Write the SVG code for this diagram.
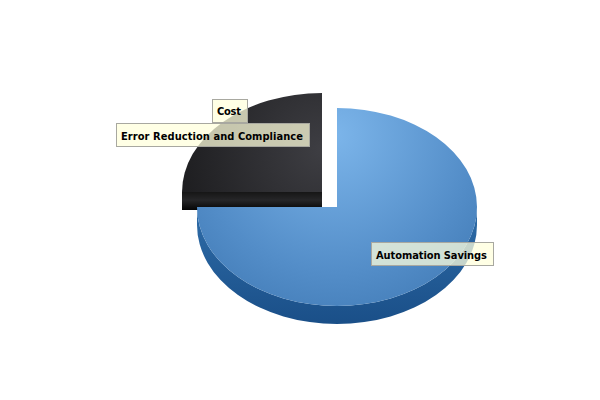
<svg xmlns="http://www.w3.org/2000/svg" width="600" height="400" viewBox="0 0 600 400">
<defs>
<style>
.lbl rect{fill:#ffffdc;fill-opacity:0.74;stroke:#a8a8a0;stroke-width:1}
.lbl text{font-family:"DejaVu Sans Condensed","DejaVu Sans",Verdana,sans-serif;font-weight:bold;font-size:11px;fill:#000}
</style>
<radialGradient id="blueTop" gradientUnits="userSpaceOnUse" cx="335" cy="135" r="230">
<stop offset="0" stop-color="#7cb5ea"/>
<stop offset="0.6" stop-color="#538dc8"/>
<stop offset="1" stop-color="#3a73ae"/>
</radialGradient>
<linearGradient id="blueSide" x1="0" y1="0" x2="0" y2="1">
<stop offset="0" stop-color="#2e6ca8"/>
<stop offset="1" stop-color="#1a4f88"/>
</linearGradient>
<radialGradient id="blackTop" gradientUnits="userSpaceOnUse" cx="322" cy="150" r="170">
<stop offset="0" stop-color="#3e3e43"/>
<stop offset="1" stop-color="#18181a"/>
</radialGradient>
<linearGradient id="blackSide" x1="0" y1="0" x2="0" y2="1">
<stop offset="0" stop-color="#161616"/>
<stop offset="0.45" stop-color="#262628"/>
<stop offset="1" stop-color="#050505"/>
</linearGradient>
</defs>
<rect width="600" height="400" fill="#fff"/>
<g id="slice-cost">
<rect x="182" y="192" width="140" height="18" fill="url(#blackSide)"/>
<path d="M322,192 L182,192 A140,99 0 0 1 322,93 Z" fill="url(#blackTop)"/>
</g>
<g id="slice-automation">
<path d="M197,207 A140,99 0 0 0 477,207 L477,225 A140,99 0 0 1 197,225 Z" fill="url(#blueSide)"/>
<path d="M337,207 L337,108 A140,99 0 1 1 197,207 Z" fill="url(#blueTop)"/>
</g>
<g id="label-cost" class="lbl">
<rect x="212.5" y="99.5" width="35" height="23"/>
<text x="217" y="115" textLength="24" lengthAdjust="spacing">Cost</text>
</g>
<g id="label-error" class="lbl">
<rect x="116.5" y="123.5" width="193" height="23"/>
<text x="121" y="139.5" textLength="182" lengthAdjust="spacing">Error Reduction and Compliance</text>
</g>
<g id="label-automation" class="lbl">
<rect x="371.5" y="242.5" width="122" height="23"/>
<text x="376" y="258.5" textLength="111" lengthAdjust="spacing">Automation Savings</text>
</g>
</svg>
